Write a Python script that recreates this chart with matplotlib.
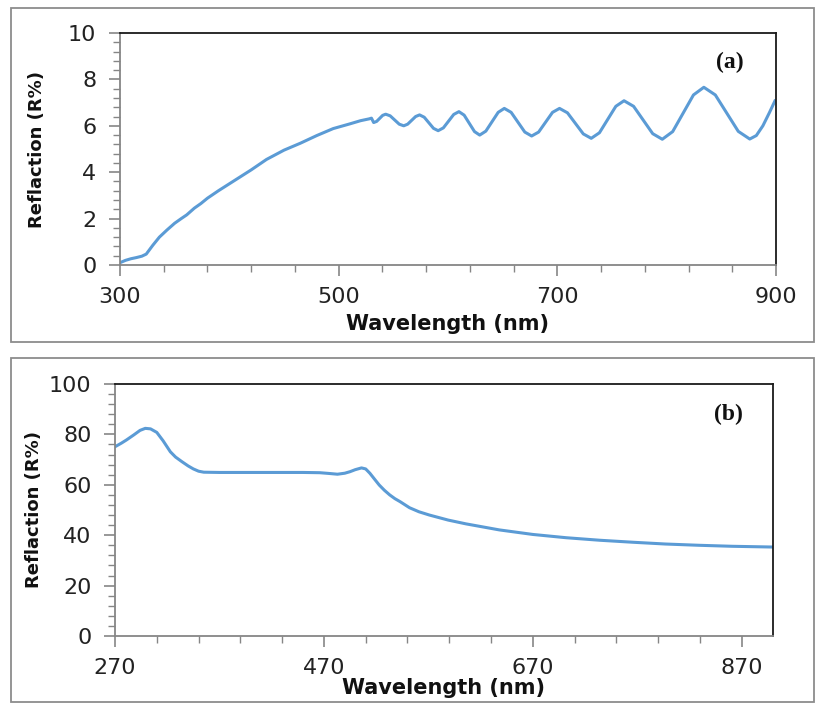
import matplotlib
matplotlib.use("Agg")
import matplotlib.pyplot as plt
from matplotlib.patches import Rectangle
from matplotlib.ticker import MultipleLocator

# ---- Panel (a) data ----
wl_a = [300, 305, 310, 315, 320, 324, 330, 336, 343, 350, 356, 361, 368, 374, 380,
        390, 400, 410, 420, 434, 450, 465, 480, 495, 510, 520, 528, 530, 532,
        534.75, 537.5, 540.25, 543, 547.1, 551.25, 555.4, 559.5, 563.1, 566.75, 570.4,
        574, 578.25, 582.5, 586.75, 591, 595.75, 600.5, 605.25, 610, 614.75, 619.5,
        624.25, 629, 634.6, 640.25, 645.9, 651.5, 657.75, 664, 670.25, 676.5, 682.9,
        689.25, 695.6, 702, 709.25, 716.5, 723.75, 731, 738.5, 746, 753.5, 761,
        769.75, 778.5, 787.25, 796, 805.5, 815, 824.5, 834, 844.5, 855, 865.5, 876,
        882, 888, 894, 899]
refl_a = [0.10, 0.20, 0.27, 0.32, 0.38, 0.47, 0.85, 1.20, 1.51, 1.80, 2.00, 2.16, 2.45, 2.65, 2.88,
          3.20, 3.50, 3.80, 4.10, 4.55, 4.95, 5.25, 5.58, 5.88, 6.08, 6.22, 6.30, 6.33, 6.14,
          6.19, 6.32, 6.45, 6.50, 6.43, 6.25, 6.07, 6.00, 6.07, 6.235, 6.40,
          6.47, 6.37, 6.13, 5.89, 5.79, 5.91, 6.20, 6.49, 6.61, 6.46, 6.105,
          5.75, 5.60, 5.77, 6.175, 6.58, 6.75, 6.58, 6.155, 5.73, 5.56, 5.73,
          6.155, 6.58, 6.75, 6.56, 6.105, 5.65, 5.46, 5.70, 6.27, 6.84, 7.08,
          6.84, 6.25, 5.66, 5.42, 5.75, 6.54, 7.33, 7.66, 7.33, 6.545, 5.76, 5.43,
          5.58, 6.00, 6.57, 7.07]

# ---- Panel (b) data ----
wl_b = [270, 276, 281, 288, 294, 299, 304, 310, 316, 323, 328, 334, 340, 345, 350,
        355, 370, 390, 410, 430, 450, 466, 475, 483, 490, 495, 500, 506, 510, 514,
        518, 523, 528, 533, 538, 543, 552, 561, 571, 589, 606, 638, 670, 702, 734,
        766, 797, 829, 861, 900]
refl_b = [75.1, 76.5, 77.8, 79.8, 81.6, 82.4, 82.2, 80.8, 77.5, 73.1, 71.0, 69.2, 67.5, 66.3, 65.4,
          65.0, 64.9, 64.9, 64.9, 64.9, 64.9, 64.8, 64.5, 64.2, 64.6, 65.2, 66.0, 66.7, 66.3, 64.6,
          62.5, 59.9, 57.8, 56.0, 54.5, 53.3, 50.9, 49.3, 48.0, 46.0, 44.5, 42.1, 40.3, 39.0, 38.0,
          37.2, 36.5, 36.0, 35.6, 35.3]

xticks_a = [300, 500, 700, 900]
yticks_a = [0, 2, 4, 6, 8, 10]
xticks_b = [270, 470, 670, 870]
yticks_b = [0, 20, 40, 60, 80, 100]

W, H = 816, 704
fig = plt.figure(figsize=(W / 100, H / 100), dpi=100)
fig.patch.set_facecolor("white")

LINE = "#5B9BD5"
TICKC = "#222222"
GRAY = "#868686"


def fx(px):
    return px / W


def fy(py):
    return 1 - py / H


# outer frames
for (x0, y0, x1, y1) in [(11, 8, 814, 342), (11, 358, 814, 702)]:
    fig.patches.append(Rectangle((fx(x0), fy(y1)), fx(x1 - x0), (y1 - y0) / H,
                                 transform=fig.transFigure, fill=False,
                                 edgecolor="#8c8c8c", linewidth=1.3))

ax_a = fig.add_axes([fx(120), fy(265), fx(656), 232 / H])
ax_b = fig.add_axes([fx(115), fy(636), fx(658), 252 / H])


def style(ax, xl, yl, xt, yt, xminor, yminor):
    ax.set_xlim(*xl)
    ax.set_ylim(*yl)
    ax.set_xticks(xt)
    ax.set_yticks(yt)
    ax.xaxis.set_minor_locator(MultipleLocator(xminor, offset=xl[0]))
    ax.yaxis.set_minor_locator(MultipleLocator(yminor))
    for s in ("top", "right"):
        ax.spines[s].set_color("#1a1a1a")
        ax.spines[s].set_linewidth(1.3)
    for s in ("left", "bottom"):
        ax.spines[s].set_color(GRAY)
        ax.spines[s].set_linewidth(1.3)
    ax.tick_params(axis="both", which="major", direction="out", length=8, width=1.2,
                   color=GRAY, labelsize=16, labelcolor=TICKC)
    ax.tick_params(axis="both", which="minor", direction="out", length=5, width=1.0,
                   color=GRAY)
    ax.tick_params(axis="x", which="major", pad=8)
    ax.tick_params(axis="y", which="major", pad=9)
    ax.set_xlabel("Wavelength (nm)", fontsize=15, fontweight="bold", color="#111111")
    ax.set_ylabel("Reflaction (R%)", fontsize=13, fontweight="bold", color="#111111")
    ax.xaxis.label.set_va("center")
    ax.yaxis.label.set_va("center")


style(ax_a, (300, 900), (0, 10), xticks_a, yticks_a, 40, 0.4)
style(ax_b, (270, 900), (0, 100), xticks_b, yticks_b, 40, 4)

ax_a.plot(wl_a, refl_a, color=LINE, linewidth=2.2, solid_joinstyle="round")
ax_b.plot(wl_b, refl_b, color=LINE, linewidth=2.2, solid_joinstyle="round")

# label positions (axes fraction)
ax_a.xaxis.set_label_coords(0.5, (265 - 324) / 232)
ax_a.yaxis.set_label_coords((37 - 120) / 656, 0.5)
ax_b.xaxis.set_label_coords(0.5, (636 - 688) / 252)
ax_b.yaxis.set_label_coords((34 - 115) / 658, 0.5)

ax_a.text(0.93, 0.871, "(a)", transform=ax_a.transAxes, ha="center", va="center",
          fontsize=17, fontweight="bold", family="Liberation Serif", color="#111111")
ax_b.text(0.933, 0.881, "(b)", transform=ax_b.transAxes, ha="center", va="center",
          fontsize=17, fontweight="bold", family="Liberation Serif", color="#111111")

fig.savefig("out.png", dpi=100, facecolor="white")
